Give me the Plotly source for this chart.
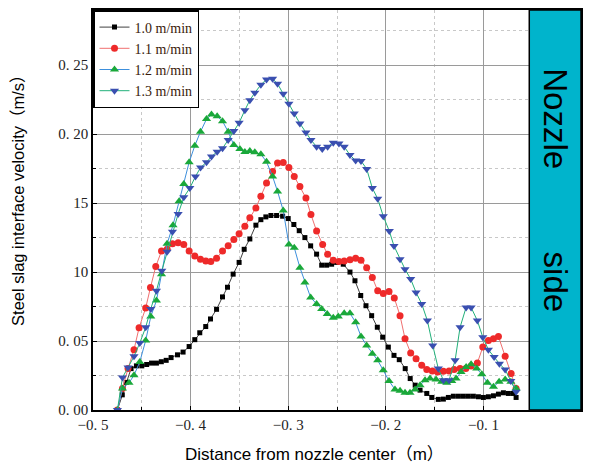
import plotly.graph_objects as go

# Distance from nozzle centre (m) and steel/slag interface velocity (m/s)
x_10 = [-0.475, -0.470, -0.466, -0.461, -0.4555, -0.450, -0.445, -0.440, -0.435, -0.430,
        -0.425, -0.420, -0.4134, -0.4077, -0.4015, -0.3957, -0.3906, -0.3845, -0.3796, -0.3734,
        -0.3673, -0.3622, -0.3564, -0.3503, -0.3451, -0.3393, -0.3331, -0.328, -0.3229, -0.3177,
        -0.3119, -0.3057, -0.300, -0.2942, -0.2887, -0.2829, -0.277, -0.2709, -0.2657, -0.2606,
        -0.2555, -0.2504, -0.2436, -0.2367, -0.2316, -0.2257, -0.2203, -0.2145, -0.2087, -0.2032,
        -0.1974, -0.1916, -0.1862, -0.1801, -0.175, -0.1699, -0.1649, -0.158, -0.1529, -0.1462,
        -0.141, -0.1359, -0.1308, -0.1256, -0.1205, -0.1154, -0.1103, -0.1051, -0.100, -0.0949,
        -0.0897, -0.0846, -0.0795, -0.0744, -0.0692, -0.0665]
v_10 = [0, 0.011, 0.020, 0.030, 0.032, 0.032, 0.033, 0.034, 0.034, 0.035,
        0.036, 0.038, 0.040, 0.042, 0.046, 0.051, 0.056, 0.0605, 0.066, 0.073,
        0.082, 0.089, 0.0985, 0.107, 0.1165, 0.124, 0.134, 0.138, 0.140, 0.141,
        0.141, 0.1405, 0.1388, 0.1345, 0.130, 0.125, 0.119, 0.113, 0.105, 0.105,
        0.1057, 0.107, 0.1057, 0.100, 0.0937, 0.083, 0.0756, 0.0684, 0.060, 0.0528,
        0.0456, 0.0396, 0.0365, 0.030, 0.0228, 0.018, 0.0144, 0.012, 0.0091, 0.0077,
        0.0079, 0.0091, 0.010, 0.010, 0.010, 0.010, 0.010, 0.0096, 0.0091, 0.0096,
        0.0103, 0.0115, 0.0125, 0.012, 0.012, 0.0091]

x_11 = [-0.475, -0.4698, -0.4641, -0.458, -0.4528, -0.446, -0.4411, -0.4357, -0.4298, -0.424,
        -0.4186, -0.4128, -0.407, -0.4015, -0.3957, -0.3899, -0.3844, -0.3793, -0.3734, -0.3673,
        -0.3615, -0.3557, -0.3503, -0.3444, -0.3393, -0.3331, -0.328, -0.3222, -0.316, -0.3109,
        -0.3051, -0.2993, -0.2938, -0.288, -0.2818, -0.2767, -0.2709, -0.2647, -0.2596, -0.2538,
        -0.248, -0.2426, -0.2367, -0.2309, -0.2254, -0.2196, -0.2138, -0.2083, -0.2026, -0.1967,
        -0.1913, -0.1854, -0.1803, -0.1745, -0.169, -0.1632, -0.158, -0.1523, -0.1468, -0.141,
        -0.1352, -0.13, -0.1239, -0.118, -0.1126, -0.1062, -0.1006, -0.0949, -0.0897, -0.0846,
        -0.0777, -0.0716, -0.0665]
v_11 = [0, 0.0156, 0.030, 0.0437, 0.0596, 0.074, 0.0889, 0.104, 0.1153, 0.1165,
        0.1205, 0.1213, 0.120, 0.1153, 0.1117, 0.1093, 0.108, 0.1076, 0.110, 0.1153,
        0.119, 0.1237, 0.1278, 0.1333, 0.1393, 0.1465, 0.155, 0.1645, 0.173, 0.179,
        0.1794, 0.1758, 0.1693, 0.162, 0.1537, 0.1417, 0.1297, 0.120, 0.1129, 0.1086,
        0.1076, 0.108, 0.109, 0.110, 0.1086, 0.1032, 0.096, 0.0865, 0.0845, 0.086,
        0.0812, 0.0684, 0.0517, 0.0413, 0.0372, 0.0324, 0.0293, 0.0283, 0.0276, 0.0281,
        0.0283, 0.0293, 0.030, 0.030, 0.0319, 0.0341, 0.0456, 0.0504, 0.0517, 0.0533,
        0.0389, 0.0264, 0.0156]

x_12 = [-0.475, -0.4698, -0.4631, -0.458, -0.4521, -0.446, -0.4408, -0.435, -0.4298, -0.4241,
        -0.418, -0.4118, -0.407, -0.4015, -0.3957, -0.3899, -0.3837, -0.3786, -0.3728, -0.3673,
        -0.3615, -0.3557, -0.3495, -0.3444, -0.3393, -0.3342, -0.328, -0.3222, -0.316, -0.3109,
        -0.3051, -0.2993, -0.2938, -0.288, -0.2829, -0.277, -0.2709, -0.2657, -0.26, -0.2538,
        -0.2487, -0.2426, -0.2367, -0.2309, -0.2254, -0.2196, -0.2138, -0.2083, -0.2026, -0.1967,
        -0.1906, -0.1854, -0.1803, -0.1752, -0.170, -0.1649, -0.1598, -0.1547, -0.1485, -0.1427,
        -0.1375, -0.1324, -0.128, -0.1229, -0.1177, -0.1126, -0.1068, -0.1016, -0.0959, -0.0897,
        -0.0839, -0.0777, -0.0719, -0.0665]
v_12 = [0, 0.0156, 0.0197, 0.0252, 0.0348, 0.0504, 0.0677, 0.0793, 0.0985, 0.1205,
        0.134, 0.1513, 0.1638, 0.1796, 0.1916, 0.2017, 0.2109, 0.2142, 0.213, 0.2094,
        0.2017, 0.1921, 0.1892, 0.187, 0.1878, 0.1868, 0.1854, 0.180, 0.1693, 0.1585,
        0.1446, 0.120, 0.1177, 0.1032, 0.0924, 0.0816, 0.0769, 0.0733, 0.0696, 0.0668,
        0.0677, 0.0701, 0.0701, 0.0636, 0.0533, 0.0468, 0.0408, 0.036, 0.0288, 0.0211,
        0.0149, 0.0139, 0.0125, 0.0125, 0.0149, 0.018, 0.0216, 0.0228, 0.0221, 0.0204,
        0.0197, 0.0211, 0.0228, 0.0276, 0.0312, 0.0331, 0.030, 0.0259, 0.0197, 0.0168,
        0.0204, 0.0221, 0.0204, 0.0156]

x_13 = [-0.475, -0.4698, -0.4641, -0.458, -0.4521, -0.446, -0.4408, -0.435, -0.4295, -0.4241,
        -0.4186, -0.4128, -0.407, -0.4008, -0.395, -0.3898, -0.3837, -0.3786, -0.3728, -0.3673,
        -0.3615, -0.3557, -0.3503, -0.3444, -0.3393, -0.3342, -0.328, -0.3222, -0.316, -0.3109,
        -0.3051, -0.2993, -0.2938, -0.288, -0.2818, -0.2767, -0.2709, -0.2651, -0.2596, -0.2538,
        -0.248, -0.2426, -0.2367, -0.2309, -0.2254, -0.2196, -0.2138, -0.2083, -0.2026, -0.1964,
        -0.1916, -0.1854, -0.1803, -0.1745, -0.169, -0.1632, -0.1574, -0.1519, -0.1462, -0.141,
        -0.1352, -0.129, -0.1239, -0.1177, -0.1126, -0.1062, -0.1006, -0.0949, -0.089, -0.0836,
        -0.0777, -0.0719, -0.0665]
v_13 = [0, 0.0236, 0.0308, 0.0389, 0.0485, 0.060, 0.0733, 0.0865, 0.1009, 0.1148,
        0.1292, 0.1421, 0.1542, 0.1609, 0.1693, 0.1758, 0.1796, 0.1837, 0.1873, 0.1897,
        0.1958, 0.2022, 0.2082, 0.2174, 0.2246, 0.230, 0.2358, 0.2397, 0.2401, 0.2365,
        0.2293, 0.2221, 0.2149, 0.2077, 0.2012, 0.1958, 0.1909, 0.1893, 0.1909, 0.1938,
        0.1933, 0.1909, 0.1849, 0.1808, 0.1806, 0.1748, 0.1609, 0.1532, 0.1405, 0.1297,
        0.1189, 0.1093, 0.1021, 0.0949, 0.0852, 0.0769, 0.0648, 0.0468, 0.030, 0.0216,
        0.0216, 0.036, 0.060, 0.0744, 0.0744, 0.0648, 0.0528, 0.0437, 0.0384, 0.0336,
        0.0293, 0.0211, 0.0132]

series_names = ["1.0 m/min", "1.1 m/min", "1.2 m/min", "1.3 m/min"]
y_tickvals = [0, 0.05, 0.10, 0.15, 0.20, 0.25]
y_ticktext = ["0. 00", "0. 05", "10", "15", "0. 20", "0. 25"]
x_tickvals = [-0.5, -0.4, -0.3, -0.2, -0.1, 0.0]
x_ticktext = ["\u22120. 5", "\u22120. 4", "\u22120. 3", "\u22120. 2", "\u22120. 1", "0. 0"]
nozzle_edge = -0.053
nozzle_label = "Nozzle" + "&nbsp;" * 9 + "side"

SERIF = "Liberation Serif, DejaVu Serif, serif"
SANS = "Liberation Sans, Arial, Noto Sans CJK SC, sans-serif"

styles = [
    dict(line=dict(color="#404040", width=1),
         marker=dict(symbol="square", size=5, color="#000000")),
    dict(line=dict(color="#f07070", width=1),
         marker=dict(symbol="circle", size=7, color="#ee2a2a")),
    dict(line=dict(color="#3d8fdc", width=1),
         marker=dict(symbol="triangle-up", size=8, color="#1aa83a")),
    dict(line=dict(color="#22b07a", width=1),
         marker=dict(symbol="triangle-down", size=8, color="#3a4fb0")),
]

fig = go.Figure()
for name, xs, ys, st in zip(series_names, [x_10, x_11, x_12, x_13],
                            [v_10, v_11, v_12, v_13], styles):
    fig.add_trace(go.Scatter(x=xs, y=ys, name=name, mode="lines+markers",
                             line=st["line"], marker=st["marker"]))

# Nozzle region on the right
fig.add_shape(type="rect", xref="x", yref="paper", x0=nozzle_edge, x1=0.0, y0=0, y1=1,
              fillcolor="#00b4cc", line=dict(color="#000000", width=1.5), layer="above")
fig.add_annotation(text=nozzle_label, x=nozzle_edge / 2, xref="x",
                   y=(410 - 189) / 402.5, yref="paper",
                   textangle=90, showarrow=False, xanchor="center", yanchor="middle",
                   font=dict(family=SANS, size=33, color="#000000"))

# Axis titles
fig.add_annotation(text="Distance from nozzle center\uff08m\uff09", xref="paper", yref="paper",
                   x=(315 - 93.3) / 487.5, y=(410 - 455) / 402.5, showarrow=False,
                   xanchor="center", yanchor="middle",
                   font=dict(family=SANS, size=17, color="#000000"))
fig.add_annotation(text="Steel slag interface velocity\uff08m/s\uff09", xref="paper", yref="paper",
                   x=(19 - 93.3) / 487.5, y=(410 - 195) / 402.5, showarrow=False,
                   textangle=-90, xanchor="center", yanchor="middle",
                   font=dict(family=SANS, size=16.5, color="#000000"))

axis_common = dict(showline=True, linecolor="#000000", linewidth=1.5, mirror=True,
                   showgrid=True, gridcolor="#9a9a9a", gridwidth=1,
                   ticks="inside", ticklen=4, tickcolor="#000000", zeroline=False,
                   tickfont=dict(family=SERIF, size=15, color="#222222"))

fig.update_xaxes(range=[-0.5, 0.0], tickvals=x_tickvals, ticktext=x_ticktext,
                 minor=dict(dtick=0.05, showgrid=True, griddash="dot", gridcolor="#c8c8c8",
                            ticks="inside", ticklen=3, tickcolor="#000000"),
                 **axis_common)
fig.update_yaxes(range=[0, 0.29], tickvals=y_tickvals, ticktext=y_ticktext,
                 minor=dict(tickvals=[0.025, 0.075, 0.125, 0.175, 0.225, 0.275], showgrid=True,
                            griddash="dot", gridcolor="#c8c8c8",
                            ticks="inside", ticklen=3, tickcolor="#000000"),
                 **axis_common)

fig.update_layout(
    width=591, height=469,
    margin=dict(l=93, r=10, t=8, b=59),
    plot_bgcolor="#ffffff", paper_bgcolor="#ffffff",
    showlegend=True,
    legend=dict(x=0, y=1, xanchor="left", yanchor="top",
                bordercolor="#000000", borderwidth=1.5, bgcolor="#ffffff",
                font=dict(family=SERIF, size=14, color="#3a1a0a"),
                tracegroupgap=0, itemwidth=30),
)

fig.write_html("out.html")
